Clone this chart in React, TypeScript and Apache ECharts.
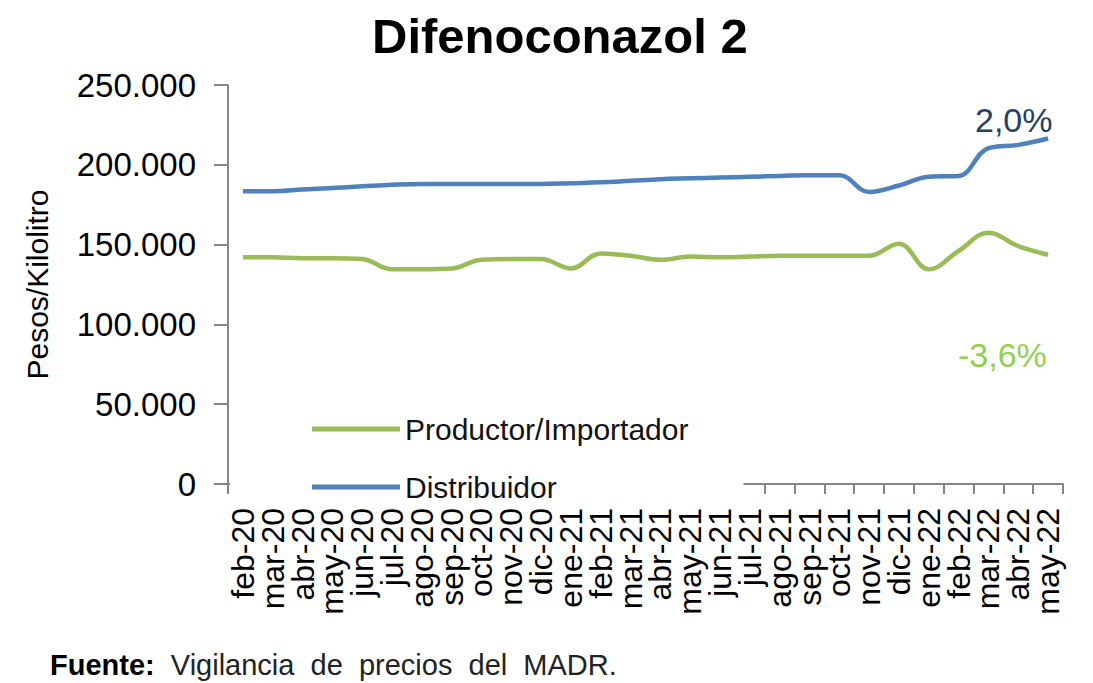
import React, { useEffect, useRef } from "react";
import * as echarts from "echarts";

const categories = [
  "feb-20", "mar-20", "abr-20", "may-20", "jun-20", "jul-20", "ago-20", "sep-20",
  "oct-20", "nov-20", "dic-20", "ene-21", "feb-21", "mar-21", "abr-21", "may-21",
  "jun-21", "jul-21", "ago-21", "sep-21", "oct-21", "nov-21", "dic-21", "ene-22",
  "feb-22", "mar-22", "abr-22", "may-22",
];

const productor = [
  142000, 142000, 141500, 141500, 141000, 134500, 134500, 135000,
  140500, 141000, 141000, 135000, 144500, 143000, 140500, 142500,
  142000, 142500, 143000, 143000, 143000, 143000, 150500, 134500,
  146000, 157500, 149000, 143600,
];

const distribuidor = [
  183500, 183500, 184500, 185500, 186500, 187500, 188000, 188000,
  188000, 188000, 188000, 188500, 189000, 190000, 191000, 191500,
  192000, 192500, 193000, 193500, 193500, 183000, 187000, 192500,
  193000, 210500, 212500, 216500,
];

const seriesNames = ["Productor/Importador", "Distribuidor"];
const changeLabels = ["-3,6%", "2,0%"];
const yMin = 0;
const yMax = 250000;
const yStep = 50000;

const FONT = "'Liberation Sans', Arial, sans-serif";

function fmt(v: number): string {
  return String(v).replace(/\B(?=(\d{3})+(?!\d))/g, ".");
}

export default function App() {
  const ref = useRef<HTMLDivElement>(null);

  useEffect(() => {
    document.body.style.margin = "0";
    if (!ref.current) return;
    const chart = echarts.init(ref.current, null, { renderer: "svg" });
    chart.setOption({
      animation: false,
      backgroundColor: "#ffffff",
      title: {
        text: "Difenoconazol 2",
        left: 367,
        top: 6,
        textStyle: {
          fontFamily: FONT,
          fontSize: 49,
          fontWeight: "bold",
          color: "#000000",
        },
      },
      grid: {
        left: 228,
        right: 30,
        top: 85,
        bottom: 199,
        containLabel: false,
      },
      legend: {
        orient: "vertical",
        left: 230,
        top: 408,
        padding: [6, 55, 4, 82],
        backgroundColor: "#ffffff",
        icon: "rect",
        itemWidth: 88,
        itemHeight: 5,
        itemGap: 28,
        textStyle: {
          fontFamily: FONT,
          fontSize: 30,
          lineHeight: 30,
          color: "#111111",
        },
        data: seriesNames,
        z: 10,
      },
      xAxis: {
        type: "category",
        data: categories,
        boundaryGap: true,
        axisLine: { show: true, lineStyle: { color: "#868686", width: 2 } },
        axisTick: { show: true, alignWithLabel: false, length: 10, lineStyle: { color: "#868686", width: 2 } },
        axisLabel: {
          interval: 0,
          rotate: 90,
          margin: 24,
          fontFamily: FONT,
          fontSize: 32,
          color: "#000000",
        },
        splitLine: { show: false },
      },
      yAxis: {
        type: "value",
        min: yMin,
        max: yMax,
        interval: yStep,
        name: "Pesos/Kilolitro",
        nameLocation: "middle",
        nameRotate: 90,
        nameGap: 176,
        nameTextStyle: {
          fontFamily: FONT,
          fontSize: 30,
          color: "#000000",
        },
        axisLine: { show: true, lineStyle: { color: "#868686", width: 2 } },
        axisTick: { show: true, length: 14, lineStyle: { color: "#868686", width: 2 } },
        axisLabel: {
          margin: 32,
          fontFamily: FONT,
          fontSize: 33,
          color: "#000000",
          formatter: (v: number) => fmt(v),
        },
        splitLine: { show: false },
      },
      series: [
        {
          name: seriesNames[0],
          type: "line",
          data: productor,
          symbol: "none",
          smooth: 0.4,
          lineStyle: { color: "#9BBB59", width: 4.5 },
          itemStyle: { color: "#9BBB59" },
          z: 3,
        },
        {
          name: seriesNames[1],
          type: "line",
          data: distribuidor,
          symbol: "none",
          smooth: 0.4,
          lineStyle: { color: "#4F81BD", width: 4.5 },
          itemStyle: { color: "#4F81BD" },
          z: 3,
        },
      ],
      graphic: [
        {
          type: "text",
          left: 975,
          top: 103,
          z: 20,
          style: {
            text: changeLabels[1],
            fontFamily: FONT,
            fontSize: 34,
            fill: "#243F60",
          },
        },
        {
          type: "text",
          left: 958,
          top: 338,
          z: 20,
          style: {
            text: changeLabels[0],
            fontFamily: FONT,
            fontSize: 34,
            fill: "#92D050",
          },
        },
        {
          type: "text",
          left: 50,
          top: 650,
          z: 20,
          style: {
            rich: {
              b: { fontFamily: FONT, fontSize: 29, fontWeight: "bold", fill: "#000000" },
              n: { fontFamily: FONT, fontSize: 29, fill: "#222222" },
            },
            text: "{b|Fuente:}{n|  Vigilancia  de  precios  del  MADR.}",
          },
        },
      ],
    });
    return () => {
      chart.dispose();
    };
  }, []);

  return <div ref={ref} style={{ width: 1093, height: 683 }} />;
}
